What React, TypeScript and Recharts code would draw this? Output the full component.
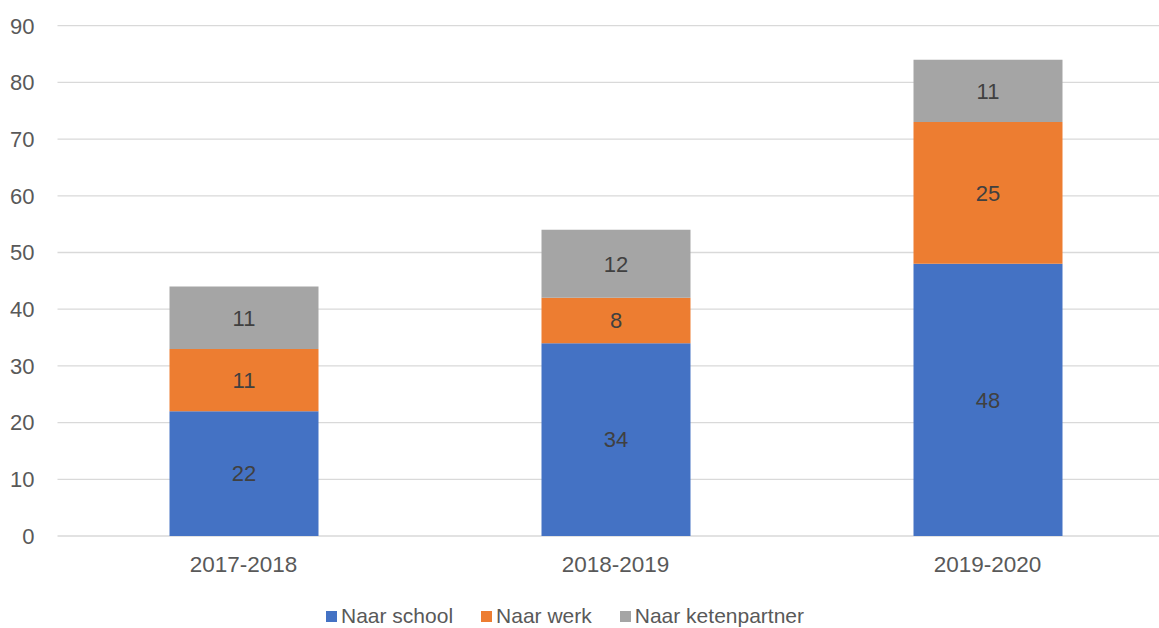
import { BarChart, Bar, XAxis, YAxis, CartesianGrid, LabelList } from "recharts";

const years = ["2017-2018", "2018-2019", "2019-2020"];
const naarSchool = [22, 34, 48];
const naarWerk = [11, 8, 25];
const naarKetenpartner = [11, 12, 11];
const yTicks = [0, 10, 20, 30, 40, 50, 60, 70, 80, 90];

const SERIES = [
  { key: "school", name: "Naar school", color: "#4472C4", values: naarSchool },
  { key: "werk", name: "Naar werk", color: "#ED7D31", values: naarWerk },
  { key: "keten", name: "Naar ketenpartner", color: "#A5A5A5", values: naarKetenpartner },
];

const FONT = "'Liberation Sans', Arial, sans-serif";
const TEXT = "#595959";

const data = years.map((y, i) => ({
  year: y,
  school: naarSchool[i],
  werk: naarWerk[i],
  keten: naarKetenpartner[i],
}));

export default function App() {
  return (
    <div style={{ position: "absolute", left: 0, top: 0, width: 1159, height: 628, overflow: "hidden", background: "#fff", fontFamily: FONT }}>
      <BarChart
        width={1180}
        height={628}
        data={data}
        barSize={149}
        margin={{ top: 25.7, right: 6.5, left: 0, bottom: 52 }}
      >
        <CartesianGrid vertical={false} stroke="#D9D9D9" strokeWidth={1.3} />
        <XAxis
          dataKey="year"
          axisLine={false}
          tickLine={false}
          height={40}
          tickMargin={14}
          tick={{ fill: TEXT, fontSize: 22.5, fontFamily: FONT }}
        />
        <YAxis
          domain={[0, 90]}
          ticks={yTicks}
          width={57.5}
          axisLine={false}
          tickLine={false}
          tickMargin={17}
          tick={{ fill: TEXT, fontSize: 22, fontFamily: FONT }}
        />
        {SERIES.map((s) => (
          <Bar key={s.key} dataKey={s.key} name={s.name} stackId="a" fill={s.color} isAnimationActive={false}>
            <LabelList dataKey={s.key} position="center" fill="#404040" fontSize={22} fontFamily={FONT} />
          </Bar>
        ))}
      </BarChart>
      {/* legend */}
      <div style={{ position: "absolute", left: 326, top: 604, display: "flex", alignItems: "center", fontSize: 21, color: TEXT }}>
        {SERIES.map((s, i) => (
          <div key={s.key} style={{ display: "flex", alignItems: "center", marginRight: i < SERIES.length - 1 ? 28 : 0 }}>
            <span style={{ display: "inline-block", width: 11, height: 11, background: s.color, marginRight: 4 }} />
            <span>{s.name}</span>
          </div>
        ))}
      </div>
    </div>
  );
}
